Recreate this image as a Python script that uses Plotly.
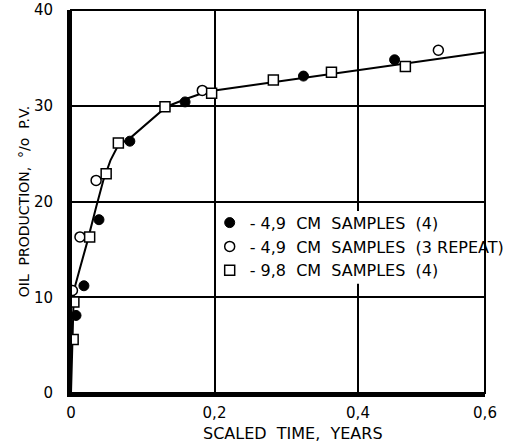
import plotly.graph_objects as go

# Scaled time (years) and cumulative oil production (% pore volume)
filled_x = [0.007, 0.018, 0.039, 0.082, 0.159, 0.324, 0.451]
filled_y = [8.1, 11.2, 18.1, 26.3, 30.4, 33.1, 34.8]

open_x = [0.002, 0.0125, 0.035, 0.183, 0.512]
open_y = [10.7, 16.3, 22.2, 31.6, 35.8]

square_x = [0.003, 0.004, 0.026, 0.049, 0.066, 0.131, 0.196, 0.282, 0.363, 0.466]
square_y = [5.6, 9.5, 16.3, 22.9, 26.1, 29.9, 31.3, 32.7, 33.5, 34.1]

# Fitted production curve
curve_x = [0.0, 0.002, 0.003, 0.004, 0.012, 0.022, 0.035, 0.045, 0.055, 0.066,
           0.082, 0.133, 0.16, 0.183, 0.2, 0.577]
curve_y = [0.0, 5.0, 9.0, 10.7, 12.9, 15.6, 19.4, 22.2, 24.3, 25.9,
           26.6, 29.9, 30.7, 31.3, 31.6, 35.6]

series_names = ["- 4,9  CM  SAMPLES  (4)",
                "- 4,9  CM  SAMPLES  (3 REPEAT)",
                "- 9,8  CM  SAMPLES  (4)"]

x_max = 0.577
x_tick_vals = [0, 0.2, 0.4, x_max]
x_tick_text = ["0", "0,2", "0,4", "0,6"]
y_tick_vals = [0, 10, 20, 30, 40]
y_tick_text = ["0", "10", "20", "30", "40"]

FONT = "DejaVu Sans"

fig = go.Figure()

fig.add_trace(go.Scatter(x=curve_x, y=curve_y, mode="lines",
                         line=dict(color="black", width=2),
                         showlegend=False, hoverinfo="skip"))

fig.add_trace(go.Scatter(x=filled_x, y=filled_y, mode="markers", name=series_names[0],
                         marker=dict(symbol="circle", size=10, color="black",
                                     line=dict(color="black", width=1))))
fig.add_trace(go.Scatter(x=open_x, y=open_y, mode="markers", name=series_names[1],
                         marker=dict(symbol="circle", size=10, color="white",
                                     line=dict(color="black", width=1.5))))
fig.add_trace(go.Scatter(x=square_x, y=square_y, mode="markers", name=series_names[2],
                         marker=dict(symbol="square", size=10, color="white",
                                     line=dict(color="black", width=1.5))))

fig.update_layout(
    width=505, height=445,
    margin=dict(l=71, r=20, t=10, b=52, autoexpand=False),
    paper_bgcolor="white", plot_bgcolor="white",
    font=dict(family=FONT, color="black", size=15),
    legend=dict(x=0.335, y=0.489, xanchor="left", yanchor="top",
                bgcolor="rgba(0,0,0,0)", borderwidth=0,
                font=dict(size=16, family=FONT)),
    shapes=[
        # blank panel behind the legend text
        dict(type="rect", xref="paper", yref="paper", x0=0.36, x1=0.995,
             y0=0.285, y1=0.475, fillcolor="white", line=dict(width=0), layer="above"),
        # plot frame (top / right)
        dict(type="rect", xref="paper", yref="paper", x0=0, x1=1, y0=0, y1=1,
             line=dict(color="black", width=2), layer="above"),
    ],
    annotations=[
        dict(text="SCALED  TIME,  YEARS", xref="paper", yref="paper",
             x=0.536, y=0, yshift=-40, xanchor="center", yanchor="middle",
             showarrow=False, font=dict(size=16, family=FONT)),
    ],
)

fig.update_xaxes(range=[0, x_max], tickvals=x_tick_vals, ticktext=x_tick_text,
                 showgrid=True, gridcolor="black", gridwidth=2, zeroline=False,
                 showline=True, linecolor="black", linewidth=4,
                 ticks="", ticklabelstandoff=3, tickfont=dict(size=15))
fig.update_yaxes(range=[0, 40], tickvals=y_tick_vals, ticktext=y_tick_text,
                 showgrid=True, gridcolor="black", gridwidth=2, zeroline=False,
                 showline=True, linecolor="black", linewidth=4,
                 ticks="", ticklabelstandoff=11, tickfont=dict(size=15),
                 title=dict(text="OIL  PRODUCTION,  °/o  P.V.", font=dict(size=14), standoff=2))

fig.write_html("out.html")
